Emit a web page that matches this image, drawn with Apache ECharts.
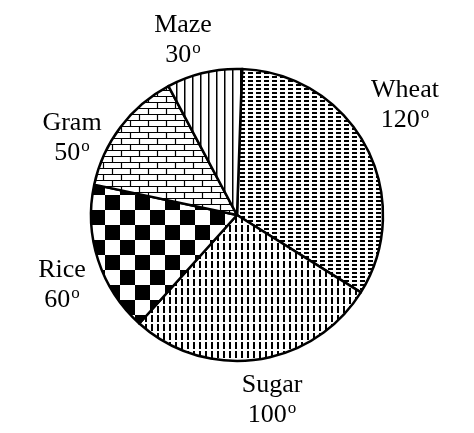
<!DOCTYPE html>
<html><head><meta charset="utf-8">
<script src="https://cdn.jsdelivr.net/npm/echarts@6/dist/echarts.min.js"></script>
<style>html,body{margin:0;background:#fff}#c{width:474px;height:433px}</style>
</head><body><div id="c"></div>
<script>
var crops = ['Wheat', 'Sugar', 'Rice', 'Gram', 'Maze'];
var degrees = [120, 100, 60, 50, 30];

// label anchor points (layout only)
var labelPos = [[405, 105], [272, 400], [62, 285], [72, 138], [183, 40]];

function pat(w, h, draw) {
    var c = document.createElement('canvas');
    c.width = w; c.height = h;
    var g = c.getContext('2d');
    g.fillStyle = '#fff'; g.fillRect(0, 0, w, h);
    g.fillStyle = '#000'; g.strokeStyle = '#000';
    draw(g);
    return {image: c, repeat: 'repeat'};
}
var patterns = [
    pat(8, 4, function (g) { g.fillRect(0, 0, 5, 2); }),
    pat(6, 9, function (g) { g.fillRect(1, 0, 2, 7); }),
    pat(30, 30, function (g) { g.fillRect(0, 0, 15, 15); g.fillRect(15, 15, 15, 15); }),
    pat(18, 12, function (g) {
        g.lineWidth = 1.2;
        g.beginPath();
        g.moveTo(0, 0.5); g.lineTo(18, 0.5);
        g.moveTo(0, 6.5); g.lineTo(18, 6.5);
        g.moveTo(4.5, 0); g.lineTo(4.5, 6);
        g.moveTo(13.5, 6); g.lineTo(13.5, 12);
        g.stroke();
    }),
    pat(8, 4, function (g) { g.fillRect(0, 0, 1.5, 4); })
];

var data = crops.map(function (n, i) {
    return {name: n, value: degrees[i], itemStyle: {color: patterns[i]}};
});

var chart = echarts.init(document.getElementById('c'));
chart.setOption({
    animation: false,
    backgroundColor: '#fff',
    series: [{
        type: 'pie',
        center: [237, 215],
        radius: 146,
        startAngle: 88,
        clockwise: true,
        data: data,
        itemStyle: {borderColor: '#000', borderWidth: 2.5},
        labelLine: {show: false},
        label: {
            position: 'outside',
            overflow: 'none',
            fontFamily: 'Liberation Serif',
            fontSize: 26,
            color: '#000',
            lineHeight: 30,
            formatter: function (p) { return p.name + '\n' + p.value + '{o|o}'; },
            rich: {o: {fontSize: 17, verticalAlign: 'top', fontFamily: 'Liberation Serif', color: '#000', padding: [0, 0, 12, 1]}}
        },
        labelLayout: function (p) {
            var q = labelPos[p.dataIndex];
            return {x: q[0], y: q[1], align: 'center', verticalAlign: 'middle'};
        }
    }],
    graphic: [{
        type: 'circle', shape: {cx: 237, cy: 213, r: 13},
        style: {fill: 'none', stroke: '#000', lineWidth: 1.5}
    }]
});
</script></body></html>
